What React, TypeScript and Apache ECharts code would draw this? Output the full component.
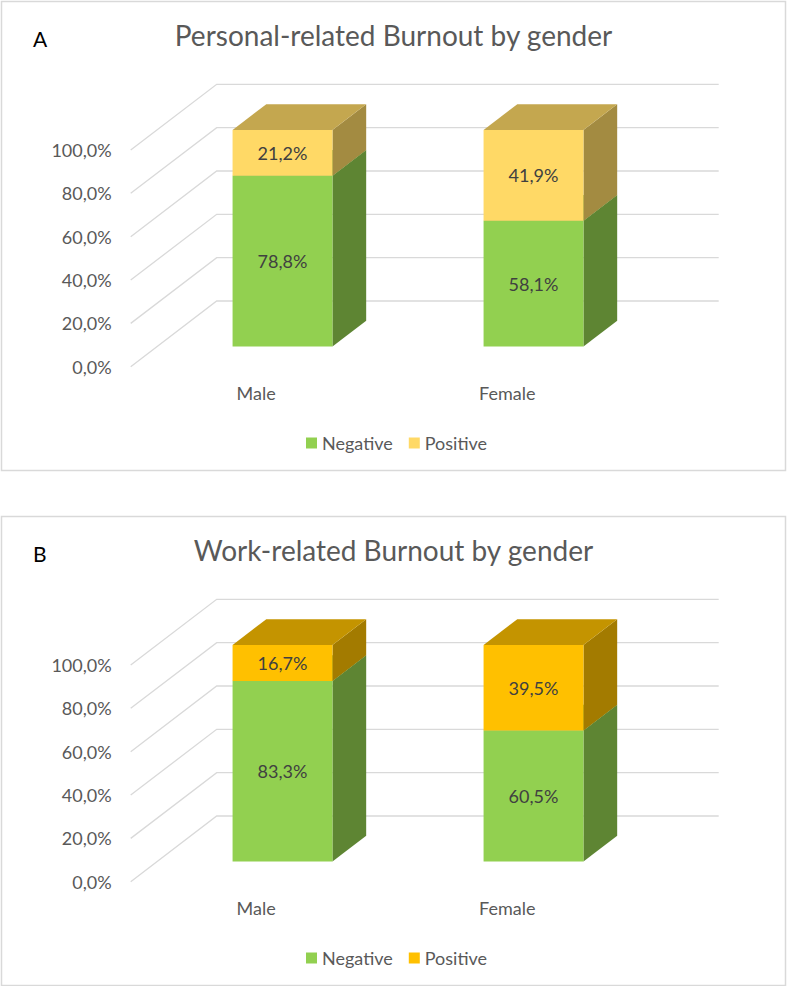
import React, { useEffect, useRef } from "react";
import * as echarts from "echarts";

// ---- Data ----
const categories = ["Male", "Female"];
const yTicks = [0, 20, 40, 60, 80, 100];
const personalNegative = [78.8, 58.1];
const personalPositive = [21.2, 41.9];
const workNegative = [83.3, 60.5];
const workPositive = [16.7, 39.5];
const seriesNames = ["Negative", "Positive"];
const titles = ["Personal-related Burnout by gender", "Work-related Burnout by gender"];
const panelLetters = ["A", "B"];

// ---- Styling / geometry ----
const FONT = "Lato, 'Open Sans', sans-serif";
const TEXT = "#595959";
const LABEL = "#404040";
const GRID_LINE = "#d9d9d9";
const DEPTH_X = 86;
const DEPTH_Y = -65.7;
const BAR_FRONT = 0.306;
const BAR_BACK = 0.698;
const BAR_RATIO = 0.398;

const GREEN = { front: "#92D050", top: "#70A03E", side: "#5E8533" };
const YELLOW = { front: "#FFD966", top: "#C4A74F", side: "#A38B41" };
const ORANGE = { front: "#FFC000", top: "#C49400", side: "#A37B00" };

const fmt = (v: number) => v.toFixed(1).replace(".", ",") + "%";

function barRenderer(colors: { front: string; top: string; side: string }) {
  return (params: any, api: any) => {
    const i = api.value(0);
    const start = api.value(1);
    const end = api.value(2);
    const val = api.value(3);
    const p0 = api.coord([i, start]);
    const p1 = api.coord([i, end]);
    const band = api.size([1, 0])[0];
    const w = band * BAR_RATIO;
    const fx = DEPTH_X * BAR_FRONT;
    const fy = DEPTH_Y * BAR_FRONT;
    const dx = DEPTH_X * (BAR_BACK - BAR_FRONT);
    const dy = DEPTH_Y * (BAR_BACK - BAR_FRONT);
    const xl = p0[0] - w / 2 + fx;
    const xr = xl + w;
    const yb = p0[1] + fy;
    const yt = p1[1] + fy;
    return {
      type: "group",
      children: [
        {
          type: "polygon",
          shape: { points: [[xr, yb], [xr + dx, yb + dy], [xr + dx, yt + dy], [xr, yt]] },
          style: { fill: colors.side },
        },
        {
          type: "polygon",
          shape: { points: [[xl, yt], [xr, yt], [xr + dx, yt + dy], [xl + dx, yt + dy]] },
          style: { fill: colors.top },
        },
        {
          type: "rect",
          shape: { x: xl, y: yt, width: w, height: yb - yt },
          style: { fill: colors.front },
        },
        {
          type: "text",
          x: (xl + xr) / 2,
          y: (yt + yb) / 2,
          style: {
            text: fmt(val),
            align: "center",
            verticalAlign: "middle",
            fontSize: 18,
            fontFamily: FONT,
            fill: LABEL,
          },
        },
      ],
    };
  };
}

function gridRenderer(params: any, api: any) {
  const v = api.value(1);
  const y = api.coord([0, v])[1];
  const x0 = params.coordSys.x;
  const x1 = x0 + params.coordSys.width;
  return {
    type: "polyline",
    shape: { points: [[x0, y], [x0 + DEPTH_X, y + DEPTH_Y], [x1 + DEPTH_X, y + DEPTH_Y]] },
    style: { stroke: GRID_LINE, lineWidth: 1.3, fill: null },
  };
}

export default function App() {
  const ref = useRef<HTMLDivElement>(null);
  useEffect(() => {
    if (!ref.current) return;
    const chart = echarts.init(ref.current, undefined, { renderer: "svg" });
    const panels = [
      { neg: personalNegative, pos: personalPositive, posColor: YELLOW, offset: 0 },
      { neg: workNegative, pos: workPositive, posColor: ORANGE, offset: 515 },
    ];
    const grid: any[] = [];
    const xAxis: any[] = [];
    const yAxis: any[] = [];
    const series: any[] = [];
    const legend: any[] = [];
    const title: any[] = [];
    const graphic: any[] = [];
    panels.forEach((p, k) => {
      grid.push({ left: 130.7, top: 150 + p.offset, width: 502, height: 216.7 });
      xAxis.push({
        gridIndex: k,
        type: "category",
        data: categories,
        axisLine: { show: false },
        axisTick: { show: false },
        axisLabel: { margin: 17, fontSize: 18, color: TEXT, fontFamily: FONT },
      });
      yAxis.push({
        gridIndex: k,
        type: "value",
        min: 0,
        max: 100,
        interval: 20,
        splitLine: { show: false },
        axisLine: { show: false },
        axisTick: { show: false },
        axisLabel: { margin: 19, fontSize: 18, color: TEXT, fontFamily: FONT, formatter: fmt },
      });
      series.push({
        type: "custom",
        name: "grid" + k,
        xAxisIndex: k,
        yAxisIndex: k,
        silent: true,
        z: 1,
        data: yTicks.map((v) => [0, v]),
        encode: { x: 0, y: 1 },
        renderItem: gridRenderer,
      });
      series.push({
        type: "custom",
        name: seriesNames[0],
        xAxisIndex: k,
        yAxisIndex: k,
        z: 2,
        itemStyle: { color: GREEN.front },
        data: categories.map((_, i) => [i, 0, p.neg[i], p.neg[i]]),
        encode: { x: 0, y: [1, 2] },
        renderItem: barRenderer(GREEN),
      });
      series.push({
        type: "custom",
        name: seriesNames[1],
        xAxisIndex: k,
        yAxisIndex: k,
        z: 3,
        itemStyle: { color: p.posColor.front },
        data: categories.map((_, i) => [i, p.neg[i], p.neg[i] + p.pos[i], p.pos[i]]),
        encode: { x: 0, y: [1, 2] },
        renderItem: barRenderer(p.posColor),
      });
      legend.push({
        left: 301,
        top: 429 + p.offset,
        icon: "rect",
        itemWidth: 11,
        itemHeight: 11,
        itemGap: 16,
        selectedMode: false,
        textStyle: { fontSize: 18, color: TEXT, fontFamily: FONT },
        data: [
          { name: seriesNames[0], itemStyle: { color: GREEN.front } },
          { name: seriesNames[1], itemStyle: { color: p.posColor.front } },
        ],
      });
      title.push({
        text: titles[k],
        left: "center",
        top: 16 + p.offset,
        textStyle: { fontSize: 28, fontWeight: "normal", color: TEXT, fontFamily: FONT },
      });
      title.push({
        text: panelLetters[k],
        left: 28,
        top: 23 + p.offset,
        textStyle: { fontSize: 21, fontWeight: "normal", color: "#000000", fontFamily: FONT },
      });
      graphic.push({
        type: "rect",
        shape: { x: 1.5, y: 1.5 + p.offset, width: 784, height: 469 },
        style: { fill: null, stroke: "#d9d9d9", lineWidth: 1.5 },
        z: -1,
        silent: true,
      });
    });
    chart.setOption({
      animation: false,
      backgroundColor: "#ffffff",
      title,
      legend,
      grid,
      xAxis,
      yAxis,
      series,
      graphic,
    });
    return () => chart.dispose();
  }, []);
  return (
    <div
      ref={ref}
      style={{ position: "absolute", left: 0, top: 0, width: 787, height: 986, background: "#fff" }}
    />
  );
}
